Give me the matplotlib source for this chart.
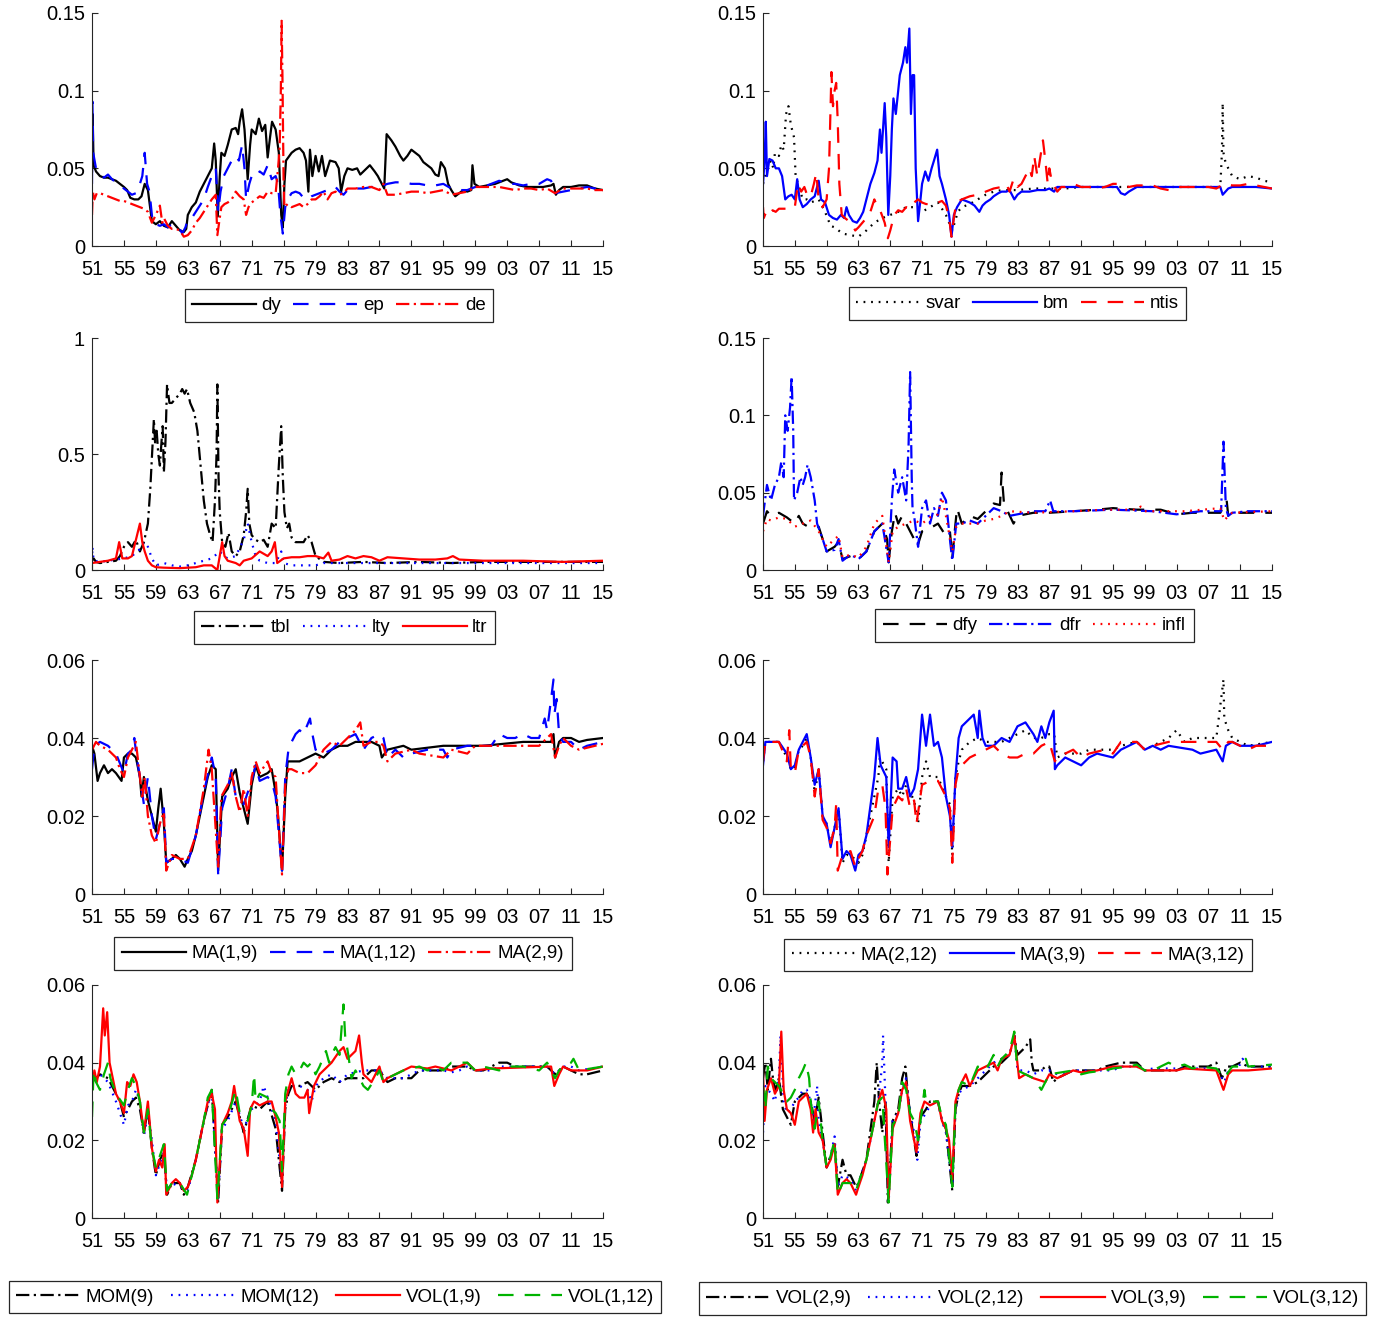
import matplotlib
matplotlib.use('Agg')
import matplotlib.pyplot as plt

plt.rcParams['font.family'] = ['Liberation Sans', 'DejaVu Sans']

FIG_W, FIG_H = 1382, 1317
AXIS_GREY = '#262626'
GREEN = (0.0, 0.7, 0.0)

YEAR_TICKS = list(range(1951, 2016, 4))
YEAR_LABELS = ['%02d' % (y % 100) for y in YEAR_TICKS]

# ---- panel 1: dy / ep / de ----
DY = [(1951.0,0.048),(1951.08,0.085),(1951.2,0.052),(1951.5,0.048),(1952.0,0.045),(1952.5,0.044),(1953.0,0.044),(1953.5,0.043),(1954.0,0.042),(1954.5,0.040),(1955.0,0.038),(1955.4,0.036),(1955.8,0.031),(1956.3,0.030),(1956.8,0.030),(1957.2,0.032),(1957.6,0.040),(1958.0,0.036),(1958.5,0.016),(1959.0,0.014),(1959.5,0.016),(1960.0,0.013),(1960.5,0.012),(1961.0,0.016),(1961.5,0.013),(1962.0,0.010),(1962.5,0.009),(1962.8,0.011),(1963.0,0.020),(1963.5,0.025),(1964.0,0.028),(1964.5,0.035),(1965.0,0.040),(1965.5,0.045),(1966.0,0.050),(1966.3,0.066),(1966.5,0.055),(1966.75,0.019),(1967.0,0.045),(1967.2,0.060),(1967.6,0.058),(1968.0,0.065),(1968.5,0.075),(1969.0,0.076),(1969.3,0.072),(1969.5,0.080),(1969.8,0.088),(1970.1,0.075),(1970.5,0.043),(1970.8,0.065),(1971.0,0.075),(1971.5,0.072),(1971.9,0.082),(1972.3,0.074),(1972.7,0.078),(1973.0,0.057),(1973.3,0.070),(1973.55,0.080),(1974.0,0.075),(1974.4,0.060),(1974.7,0.020),(1974.9,0.012),(1975.1,0.040),(1975.3,0.055),(1976.0,0.060),(1976.5,0.062),(1977.0,0.063),(1977.5,0.060),(1977.8,0.055),(1978.1,0.035),(1978.3,0.062),(1978.6,0.045),(1979.0,0.058),(1979.4,0.048),(1979.8,0.058),(1980.2,0.045),(1980.8,0.055),(1981.5,0.054),(1981.9,0.050),(1982.2,0.035),(1982.6,0.045),(1983.0,0.050),(1983.6,0.049),(1984.2,0.050),(1984.6,0.046),(1985.2,0.049),(1985.8,0.052),(1986.4,0.048),(1986.8,0.045),(1987.3,0.040),(1987.6,0.037),(1987.9,0.072),(1988.5,0.068),(1989.0,0.064),(1989.6,0.058),(1990.0,0.055),(1990.5,0.058),(1991.0,0.062),(1991.5,0.060),(1992.0,0.058),(1992.5,0.054),(1993.0,0.052),(1993.5,0.050),(1994.0,0.046),(1994.4,0.045),(1994.7,0.054),(1995.2,0.050),(1995.6,0.040),(1996.0,0.036),(1996.5,0.032),(1997.0,0.034),(1997.5,0.036),(1998.0,0.035),(1998.5,0.036),(1998.65,0.052),(1998.9,0.040),(1999.5,0.038),(2000.5,0.039),(2001.5,0.040),(2002.5,0.042),(2003.0,0.043),(2003.5,0.041),(2004.5,0.039),(2005.5,0.038),(2006.5,0.038),(2007.5,0.038),(2008.5,0.039),(2008.8,0.040),(2009.1,0.033),(2009.5,0.036),(2010.0,0.038),(2011.0,0.038),(2012.0,0.039),(2013.0,0.039),(2014.0,0.037),(2015.0,0.036)]
EP = [(1951.0,0.040),(1951.05,0.093),(1951.15,0.060),(1951.5,0.050),(1952.0,0.047),(1952.5,0.044),(1953.0,0.046),(1953.5,0.043),(1954.0,0.041),(1954.5,0.039),(1955.0,0.037),(1955.5,0.035),(1956.0,0.033),(1956.5,0.034),(1957.0,0.040),(1957.3,0.045),(1957.6,0.060),(1957.9,0.040),(1958.2,0.035),(1958.6,0.015),(1959.0,0.014),(1959.5,0.013),(1960.0,0.014),(1960.5,0.012),(1961.0,0.014),(1961.5,0.013),(1962.0,0.011),(1962.3,0.008),(1962.7,0.012),(1963.0,0.017),(1963.5,0.018),(1964.0,0.022),(1964.5,0.026),(1965.0,0.030),(1965.5,0.038),(1966.0,0.045),(1966.5,0.050),(1966.8,0.022),(1967.1,0.035),(1967.5,0.045),(1968.0,0.050),(1968.5,0.055),(1969.0,0.058),(1969.4,0.055),(1969.8,0.065),(1970.1,0.050),(1970.3,0.030),(1970.7,0.040),(1971.0,0.045),(1971.5,0.044),(1972.0,0.048),(1972.5,0.046),(1973.0,0.052),(1973.5,0.043),(1974.0,0.045),(1974.3,0.040),(1974.6,0.020),(1974.9,0.008),(1975.2,0.025),(1975.5,0.030),(1976.0,0.034),(1976.5,0.035),(1977.0,0.034),(1977.5,0.031),(1978.0,0.030),(1978.5,0.032),(1979.0,0.033),(1979.5,0.034),(1980.0,0.035),(1980.5,0.036),(1981.0,0.037),(1981.5,0.038),(1982.0,0.035),(1982.5,0.033),(1983.0,0.036),(1984.0,0.037),(1985.0,0.037),(1986.0,0.038),(1987.0,0.038),(1988.0,0.040),(1989.0,0.041),(1990.0,0.041),(1991.0,0.040),(1992.0,0.040),(1993.0,0.039),(1994.0,0.039),(1995.0,0.040),(1996.0,0.037),(1997.0,0.036),(1998.0,0.036),(1999.0,0.038),(2000.0,0.038),(2001.0,0.040),(2002.0,0.042),(2003.0,0.040),(2004.0,0.040),(2005.0,0.039),(2006.0,0.040),(2007.0,0.040),(2008.0,0.043),(2008.5,0.042),(2009.0,0.034),(2010.0,0.035),(2011.0,0.036),(2012.0,0.037),(2013.0,0.038),(2014.0,0.037),(2015.0,0.036)]
DE = [(1951.0,0.020),(1951.1,0.035),(1951.3,0.030),(1951.6,0.034),(1952.0,0.034),(1952.5,0.033),(1953.0,0.032),(1953.5,0.031),(1954.0,0.030),(1954.5,0.029),(1955.0,0.029),(1955.5,0.028),(1956.0,0.027),(1956.5,0.026),(1957.0,0.025),(1957.5,0.024),(1958.0,0.022),(1958.5,0.015),(1959.0,0.020),(1959.5,0.026),(1959.8,0.015),(1960.0,0.018),(1960.5,0.013),(1961.0,0.011),(1961.5,0.011),(1962.0,0.010),(1962.5,0.006),(1963.0,0.007),(1963.5,0.010),(1964.0,0.015),(1964.5,0.018),(1965.0,0.022),(1965.5,0.026),(1966.0,0.030),(1966.5,0.033),(1966.7,0.007),(1967.0,0.018),(1967.2,0.025),(1967.6,0.027),(1968.0,0.028),(1968.5,0.030),(1969.0,0.035),(1969.5,0.032),(1970.0,0.030),(1970.3,0.020),(1970.6,0.025),(1971.0,0.028),(1971.5,0.030),(1972.0,0.032),(1972.5,0.031),(1973.0,0.035),(1973.5,0.034),(1974.0,0.034),(1974.3,0.050),(1974.5,0.063),(1974.65,0.100),(1974.75,0.145),(1974.85,0.110),(1975.0,0.040),(1975.1,0.025),(1975.5,0.027),(1976.0,0.025),(1976.5,0.026),(1977.0,0.027),(1977.5,0.025),(1978.0,0.027),(1978.5,0.030),(1979.0,0.030),(1979.5,0.032),(1980.0,0.035),(1980.5,0.030),(1981.0,0.034),(1981.5,0.035),(1982.0,0.033),(1982.5,0.034),(1983.0,0.037),(1984.0,0.037),(1985.0,0.038),(1986.0,0.038),(1987.0,0.036),(1987.5,0.040),(1988.0,0.033),(1989.0,0.033),(1990.0,0.034),(1991.0,0.035),(1992.0,0.035),(1993.0,0.034),(1994.0,0.035),(1995.0,0.036),(1996.0,0.033),(1997.0,0.034),(1998.0,0.035),(1999.0,0.038),(2000.0,0.038),(2001.0,0.038),(2002.0,0.038),(2003.0,0.037),(2004.0,0.036),(2005.0,0.037),(2006.0,0.037),(2007.0,0.036),(2008.0,0.037),(2009.0,0.034),(2010.0,0.037),(2011.0,0.037),(2012.0,0.037),(2013.0,0.037),(2014.0,0.036),(2015.0,0.036)]

# ---- panel 2: svar / bm / ntis ----
SVAR = [(1951.0,0.040),(1951.5,0.050),(1952.0,0.055),(1952.3,0.050),(1952.5,0.060),(1953.0,0.058),(1953.3,0.065),(1953.6,0.062),(1953.9,0.085),(1954.2,0.090),(1954.5,0.078),(1954.9,0.070),(1955.1,0.045),(1955.4,0.040),(1955.7,0.035),(1956.0,0.030),(1956.5,0.030),(1957.0,0.028),(1957.5,0.029),(1958.0,0.030),(1958.8,0.022),(1959.5,0.013),(1960.0,0.012),(1960.5,0.010),(1961.0,0.008),(1962.0,0.007),(1963.0,0.006),(1963.5,0.008),(1964.0,0.010),(1965.0,0.015),(1966.0,0.018),(1967.0,0.020),(1968.0,0.022),(1969.0,0.025),(1970.0,0.025),(1971.0,0.022),(1972.0,0.025),(1973.0,0.028),(1974.0,0.020),(1974.8,0.010),(1975.5,0.022),(1976.0,0.025),(1977.0,0.027),(1978.0,0.030),(1979.0,0.033),(1980.0,0.035),(1981.0,0.036),(1983.0,0.036),(1985.0,0.037),(1987.0,0.037),(1989.0,0.037),(1991.0,0.038),(1995.0,0.038),(2000.0,0.038),(2004.0,0.038),(2008.5,0.038),(2008.7,0.060),(2008.8,0.092),(2008.9,0.060),(2009.1,0.055),(2009.5,0.050),(2010.0,0.045),(2011.0,0.043),(2012.0,0.045),(2013.0,0.044),(2014.0,0.042),(2015.0,0.041)]
BM = [(1951.0,0.040),(1951.2,0.055),(1951.35,0.080),(1951.5,0.045),(1951.8,0.056),(1952.2,0.055),(1952.6,0.050),(1953.0,0.050),(1953.4,0.045),(1953.8,0.030),(1954.2,0.032),(1954.6,0.033),(1955.0,0.030),(1955.3,0.043),(1955.6,0.030),(1956.0,0.025),(1956.5,0.027),(1957.0,0.030),(1957.5,0.032),(1958.0,0.042),(1958.3,0.030),(1958.8,0.028),(1959.3,0.020),(1959.8,0.018),(1960.3,0.017),(1960.8,0.020),(1961.2,0.018),(1961.5,0.025),(1961.8,0.020),(1962.3,0.016),(1962.8,0.015),(1963.2,0.018),(1963.6,0.022),(1964.0,0.030),(1964.5,0.040),(1965.0,0.047),(1965.4,0.055),(1965.7,0.075),(1965.9,0.060),(1966.3,0.092),(1966.5,0.070),(1966.75,0.020),(1967.0,0.045),(1967.2,0.075),(1967.4,0.095),(1967.7,0.085),(1968.2,0.110),(1968.6,0.118),(1968.9,0.128),(1969.1,0.118),(1969.4,0.140),(1969.6,0.085),(1969.8,0.110),(1970.0,0.110),(1970.2,0.050),(1970.5,0.016),(1970.8,0.030),(1971.0,0.040),(1971.4,0.048),(1971.8,0.042),(1972.2,0.050),(1972.5,0.055),(1972.9,0.062),(1973.2,0.045),(1973.5,0.040),(1974.0,0.030),(1974.4,0.020),(1974.7,0.006),(1975.0,0.020),(1975.4,0.025),(1976.0,0.030),(1976.5,0.029),(1977.0,0.028),(1977.6,0.026),(1978.2,0.022),(1978.6,0.026),(1979.0,0.028),(1979.6,0.030),(1980.0,0.032),(1980.6,0.034),(1981.0,0.035),(1981.6,0.035),(1982.0,0.036),(1982.6,0.030),(1983.0,0.033),(1983.5,0.035),(1984.5,0.035),(1985.5,0.036),(1986.5,0.036),(1987.0,0.037),(1987.6,0.035),(1988.0,0.038),(1990.0,0.038),(1992.0,0.038),(1994.0,0.038),(1995.5,0.038),(1996.0,0.034),(1996.5,0.033),(1997.0,0.035),(1998.0,0.038),(2000.0,0.038),(2002.0,0.038),(2004.0,0.038),(2006.0,0.038),(2008.5,0.038),(2008.8,0.033),(2009.5,0.037),(2010.0,0.038),(2012.0,0.038),(2013.0,0.038),(2015.0,0.037)]
NTIS = [(1951.0,0.025),(1951.1,0.018),(1951.4,0.022),(1951.8,0.020),(1952.2,0.023),(1952.6,0.022),(1953.0,0.024),(1953.5,0.024),(1954.0,0.024),(1954.5,0.025),(1955.0,0.025),(1955.4,0.040),(1955.8,0.035),(1956.2,0.038),(1956.6,0.032),(1957.0,0.032),(1957.4,0.040),(1957.7,0.047),(1958.0,0.030),(1958.5,0.025),(1959.0,0.030),(1959.3,0.050),(1959.5,0.090),(1959.6,0.112),(1959.8,0.090),(1960.0,0.100),(1960.2,0.105),(1960.4,0.080),(1960.6,0.040),(1960.9,0.020),(1961.3,0.018),(1961.8,0.016),(1962.2,0.014),(1962.6,0.010),(1963.0,0.012),(1963.5,0.015),(1964.0,0.018),(1964.5,0.022),(1965.0,0.030),(1965.4,0.025),(1965.8,0.022),(1966.3,0.015),(1966.7,0.005),(1967.0,0.010),(1967.5,0.020),(1968.0,0.023),(1968.5,0.022),(1969.0,0.025),(1969.5,0.024),(1970.0,0.028),(1970.5,0.030),(1971.0,0.028),(1971.5,0.027),(1972.0,0.027),(1972.5,0.028),(1973.0,0.028),(1973.5,0.029),(1974.0,0.026),(1974.4,0.018),(1974.7,0.006),(1975.0,0.018),(1975.3,0.028),(1976.0,0.030),(1977.0,0.032),(1978.0,0.033),(1979.0,0.035),(1979.5,0.036),(1980.0,0.037),(1981.0,0.038),(1981.6,0.040),(1982.0,0.035),(1982.5,0.043),(1983.0,0.038),(1983.5,0.040),(1984.0,0.045),(1984.5,0.050),(1984.8,0.045),(1985.1,0.058),(1985.5,0.045),(1985.8,0.055),(1986.2,0.068),(1986.5,0.055),(1986.8,0.040),(1987.0,0.050),(1987.3,0.042),(1988.0,0.035),(1988.5,0.038),(1989.0,0.038),(1990.0,0.040),(1991.0,0.038),(1992.0,0.038),(1993.0,0.037),(1994.0,0.038),(1995.0,0.040),(1996.0,0.040),(1997.0,0.038),(1998.0,0.039),(1999.0,0.039),(2000.0,0.039),(2001.0,0.037),(2002.0,0.036),(2003.0,0.038),(2005.0,0.038),(2007.0,0.038),(2008.0,0.037),(2009.0,0.040),(2010.0,0.039),(2011.0,0.039),(2012.0,0.040),(2013.0,0.039),(2015.0,0.037)]

# ---- panel 3: tbl / lty / ltr ----
TBL = [(1951.0,0.04),(1951.2,0.05),(1951.5,0.035),(1952.0,0.03),(1953.0,0.035),(1954.0,0.04),(1954.5,0.06),(1955.0,0.10),(1955.5,0.12),(1956.0,0.10),(1956.5,0.13),(1957.0,0.08),(1957.5,0.12),(1958.0,0.20),(1958.3,0.35),(1958.6,0.55),(1958.75,0.65),(1958.9,0.55),(1959.1,0.60),(1959.3,0.50),(1959.5,0.45),(1959.7,0.55),(1959.85,0.62),(1960.0,0.42),(1960.2,0.55),(1960.4,0.80),(1960.7,0.72),(1961.0,0.72),(1961.5,0.74),(1962.0,0.76),(1962.3,0.78),(1962.6,0.76),(1962.9,0.78),(1963.3,0.72),(1963.8,0.68),(1964.2,0.60),(1964.6,0.45),(1965.0,0.30),(1965.4,0.20),(1965.8,0.15),(1966.1,0.12),(1966.4,0.30),(1966.6,0.50),(1966.7,0.80),(1966.85,0.40),(1967.0,0.25),(1967.3,0.12),(1967.7,0.10),(1968.1,0.16),(1968.5,0.08),(1969.0,0.06),(1969.5,0.08),(1970.0,0.15),(1970.3,0.25),(1970.5,0.35),(1970.7,0.20),(1971.0,0.15),(1971.5,0.13),(1972.0,0.12),(1972.5,0.13),(1973.0,0.10),(1973.5,0.20),(1974.0,0.18),(1974.4,0.45),(1974.7,0.62),(1974.9,0.40),(1975.1,0.25),(1975.4,0.18),(1975.7,0.20),(1976.0,0.14),(1976.5,0.12),(1977.0,0.12),(1977.5,0.12),(1978.0,0.15),(1978.5,0.12),(1979.0,0.06),(1980.0,0.035),(1982.0,0.03),(1985.0,0.035),(1988.0,0.03),(1992.0,0.035),(1996.0,0.03),(2000.0,0.035),(2005.0,0.035),(2010.0,0.035),(2015.0,0.035)]
LTY = [(1951.0,0.04),(1951.05,0.10),(1951.2,0.04),(1952.0,0.035),(1953.0,0.04),(1954.0,0.045),(1955.0,0.05),(1956.0,0.06),(1957.0,0.09),(1957.5,0.12),(1958.0,0.10),(1958.5,0.05),(1959.0,0.02),(1960.0,0.03),(1961.0,0.02),(1962.0,0.015),(1963.0,0.02),(1964.0,0.03),(1965.0,0.04),(1966.0,0.05),(1967.0,0.08),(1967.5,0.06),(1968.0,0.05),(1969.0,0.06),(1970.0,0.13),(1970.5,0.20),(1971.0,0.12),(1971.5,0.06),(1972.0,0.04),(1973.0,0.03),(1974.0,0.03),(1974.7,0.08),(1975.0,0.03),(1976.0,0.02),(1978.0,0.02),(1979.0,0.02),(1980.0,0.03),(1985.0,0.03),(1990.0,0.03),(2000.0,0.03),(2015.0,0.03)]
LTR = [(1951.0,0.03),(1952.0,0.035),(1953.0,0.04),(1954.0,0.05),(1954.4,0.12),(1954.8,0.05),(1955.5,0.05),(1956.0,0.06),(1956.5,0.13),(1957.0,0.20),(1957.3,0.12),(1957.6,0.08),(1958.0,0.04),(1958.5,0.02),(1959.0,0.012),(1960.0,0.010),(1962.0,0.008),(1964.0,0.012),(1965.0,0.02),(1966.0,0.02),(1966.7,0.0),(1967.0,0.06),(1967.3,0.12),(1967.6,0.06),(1968.0,0.04),(1969.0,0.03),(1969.5,0.02),(1970.0,0.04),(1971.0,0.05),(1972.0,0.08),(1973.0,0.06),(1973.5,0.08),(1973.9,0.12),(1974.2,0.03),(1975.0,0.05),(1976.0,0.055),(1977.0,0.055),(1978.0,0.06),(1979.0,0.06),(1980.0,0.05),(1980.6,0.075),(1981.0,0.04),(1982.0,0.045),(1983.0,0.06),(1984.0,0.05),(1985.0,0.06),(1986.0,0.055),(1987.0,0.04),(1988.0,0.055),(1990.0,0.05),(1992.0,0.045),(1994.0,0.045),(1995.5,0.05),(1996.2,0.06),(1997.0,0.045),(2000.0,0.04),(2005.0,0.04),(2010.0,0.035),(2015.0,0.04)]

# ---- panel 4: dfy / dfr / infl ----
DFY = [(1951.0,0.030),(1951.5,0.038),(1952.0,0.035),(1953.0,0.037),(1954.0,0.034),(1955.0,0.030),(1955.5,0.035),(1956.0,0.030),(1957.0,0.027),(1958.0,0.028),(1958.5,0.020),(1959.0,0.012),(1960.0,0.015),(1960.5,0.018),(1961.0,0.007),(1962.0,0.009),(1963.0,0.007),(1964.0,0.012),(1965.0,0.025),(1966.0,0.030),(1966.6,0.020),(1966.8,0.005),(1967.2,0.025),(1967.6,0.037),(1968.0,0.030),(1968.5,0.035),(1969.5,0.025),(1970.0,0.020),(1970.4,0.015),(1971.0,0.025),(1972.0,0.027),(1973.0,0.030),(1974.0,0.022),(1974.5,0.025),(1974.8,0.008),(1975.2,0.030),(1975.4,0.040),(1976.0,0.030),(1977.0,0.035),(1978.0,0.033),(1979.0,0.038),(1980.0,0.043),(1980.8,0.042),(1981.0,0.063),(1981.3,0.043),(1982.5,0.030),(1983.0,0.035),(1985.0,0.037),(1987.0,0.037),(1990.0,0.038),(1993.0,0.039),(1995.0,0.040),(1998.0,0.039),(2001.0,0.039),(2003.0,0.036),(2005.0,0.037),(2008.5,0.037),(2009.3,0.045),(2009.5,0.035),(2010.0,0.037),(2015.0,0.037)]
DFR = [(1951.0,0.035),(1951.5,0.055),(1952.0,0.045),(1952.5,0.055),(1953.0,0.060),(1953.3,0.070),(1953.6,0.060),(1953.8,0.100),(1954.1,0.090),(1954.4,0.105),(1954.6,0.125),(1954.8,0.090),(1954.9,0.045),(1955.3,0.050),(1955.7,0.060),(1956.0,0.055),(1956.3,0.060),(1956.6,0.068),(1957.0,0.060),(1957.5,0.045),(1957.8,0.030),(1958.5,0.020),(1959.0,0.012),(1960.0,0.013),(1960.5,0.020),(1961.0,0.006),(1962.0,0.010),(1963.0,0.007),(1964.0,0.012),(1965.0,0.025),(1966.0,0.030),(1966.8,0.005),(1967.2,0.045),(1967.5,0.065),(1968.0,0.050),(1968.5,0.060),(1969.0,0.045),(1969.3,0.080),(1969.5,0.128),(1969.7,0.060),(1969.8,0.040),(1970.0,0.035),(1970.5,0.015),(1971.0,0.040),(1971.5,0.045),(1972.0,0.030),(1972.5,0.040),(1973.0,0.035),(1973.5,0.050),(1974.0,0.045),(1974.5,0.020),(1974.8,0.006),(1975.3,0.030),(1976.0,0.030),(1977.0,0.032),(1978.0,0.030),(1979.0,0.035),(1980.0,0.040),(1981.0,0.038),(1982.0,0.035),(1983.0,0.036),(1985.0,0.038),(1986.5,0.038),(1987.1,0.045),(1987.5,0.038),(1990.0,0.038),(1995.0,0.039),(2000.0,0.038),(2003.0,0.036),(2006.0,0.038),(2008.6,0.038),(2008.9,0.083),(2009.2,0.040),(2009.5,0.035),(2010.0,0.037),(2012.0,0.038),(2015.0,0.038)]
INFL = [(1951.0,0.025),(1951.5,0.033),(1952.0,0.032),(1953.0,0.034),(1954.0,0.033),(1955.0,0.028),(1956.0,0.030),(1957.0,0.032),(1958.0,0.025),(1959.0,0.015),(1960.0,0.020),(1960.5,0.022),(1961.0,0.008),(1962.0,0.010),(1963.0,0.008),(1964.0,0.015),(1965.0,0.030),(1966.0,0.035),(1966.8,0.005),(1967.3,0.025),(1968.0,0.028),(1969.0,0.030),(1970.0,0.032),(1971.0,0.030),(1972.0,0.034),(1973.0,0.036),(1973.5,0.047),(1974.0,0.035),(1974.8,0.012),(1975.3,0.028),(1976.0,0.030),(1978.0,0.030),(1979.0,0.032),(1980.0,0.033),(1981.0,0.035),(1982.0,0.038),(1985.0,0.037),(1990.0,0.038),(1994.0,0.039),(1998.0,0.039),(1998.5,0.041),(1999.0,0.038),(2004.0,0.038),(2008.5,0.040),(2009.0,0.032),(2009.5,0.035),(2010.0,0.037),(2015.0,0.038)]

# ---- panel 5: MA(1,9) / MA(1,12) / MA(2,9) ----
MA_1_9 = [(1951.0,0.038),(1951.3,0.036),(1951.7,0.029),(1952.0,0.031),(1952.5,0.033),(1953.0,0.031),(1953.5,0.032),(1954.0,0.031),(1954.7,0.029),(1955.0,0.035),(1955.5,0.036),(1956.0,0.036),(1956.5,0.035),(1957.0,0.030),(1957.2,0.025),(1957.5,0.030),(1958.0,0.024),(1958.5,0.020),(1959.0,0.016),(1959.3,0.022),(1959.6,0.027),(1960.0,0.018),(1960.3,0.008),(1961.0,0.009),(1961.5,0.010),(1962.0,0.009),(1962.6,0.007),(1963.0,0.009),(1963.5,0.011),(1964.0,0.015),(1965.0,0.025),(1965.5,0.030),(1966.0,0.033),(1966.5,0.032),(1966.8,0.006),(1967.3,0.025),(1968.0,0.027),(1968.5,0.030),(1969.0,0.032),(1969.5,0.026),(1970.0,0.022),(1970.5,0.018),(1971.0,0.028),(1971.5,0.033),(1972.0,0.030),(1973.0,0.031),(1973.5,0.032),(1974.0,0.026),(1974.3,0.020),(1974.8,0.006),(1975.2,0.025),(1975.5,0.034),(1976.0,0.034),(1977.0,0.034),(1978.0,0.035),(1979.0,0.036),(1980.0,0.035),(1981.0,0.037),(1982.0,0.038),(1983.0,0.038),(1984.0,0.039),(1986.0,0.039),(1987.0,0.038),(1987.3,0.035),(1988.0,0.037),(1990.0,0.038),(1991.0,0.037),(1995.0,0.038),(2000.0,0.038),(2005.0,0.039),(2008.5,0.039),(2008.8,0.041),(2009.0,0.035),(2009.5,0.039),(2010.0,0.040),(2011.0,0.040),(2012.0,0.039),(2013.0,0.0395),(2015.0,0.040)]
MA_1_12 = [(1951.0,0.032),(1951.3,0.038),(1952.0,0.039),(1953.0,0.038),(1954.0,0.036),(1955.0,0.031),(1955.5,0.036),(1956.0,0.037),(1956.3,0.040),(1956.6,0.035),(1957.0,0.030),(1957.5,0.023),(1958.0,0.030),(1958.5,0.020),(1959.0,0.014),(1959.5,0.018),(1960.0,0.022),(1960.3,0.008),(1961.0,0.009),(1962.0,0.009),(1963.0,0.008),(1964.0,0.015),(1965.0,0.026),(1966.0,0.035),(1966.5,0.030),(1966.8,0.005),(1967.3,0.022),(1968.0,0.027),(1968.5,0.032),(1969.0,0.025),(1970.0,0.023),(1971.0,0.029),(1971.5,0.033),(1972.0,0.029),(1973.0,0.030),(1973.5,0.029),(1974.0,0.025),(1974.8,0.006),(1975.2,0.030),(1975.6,0.037),(1976.0,0.039),(1976.5,0.041),(1977.0,0.042),(1977.5,0.041),(1978.3,0.045),(1978.6,0.041),(1979.0,0.037),(1980.0,0.036),(1981.0,0.037),(1982.0,0.039),(1983.0,0.040),(1984.0,0.041),(1985.0,0.037),(1986.0,0.040),(1987.0,0.041),(1987.5,0.040),(1988.0,0.035),(1989.0,0.037),(1990.0,0.035),(1991.0,0.036),(1993.0,0.037),(1995.0,0.037),(1995.5,0.035),(1996.0,0.037),(1998.0,0.038),(2001.0,0.038),(2002.0,0.041),(2003.0,0.040),(2004.0,0.040),(2005.0,0.041),(2006.0,0.040),(2007.0,0.040),(2007.7,0.045),(2008.0,0.042),(2008.5,0.050),(2008.8,0.055),(2008.9,0.046),(2009.2,0.050),(2009.5,0.041),(2010.0,0.039),(2011.0,0.039),(2012.0,0.037),(2013.0,0.038),(2015.0,0.039)]
MA_2_9 = [(1951.0,0.037),(1951.5,0.039),(1952.0,0.038),(1953.0,0.037),(1954.0,0.035),(1954.5,0.032),(1955.0,0.030),(1955.5,0.035),(1956.0,0.037),(1956.5,0.039),(1957.0,0.030),(1957.3,0.025),(1957.6,0.030),(1958.0,0.020),(1958.5,0.015),(1959.0,0.013),(1959.5,0.018),(1960.0,0.021),(1960.3,0.006),(1961.0,0.010),(1962.0,0.009),(1963.0,0.009),(1964.0,0.015),(1965.0,0.027),(1965.6,0.037),(1966.0,0.032),(1966.8,0.007),(1967.2,0.025),(1968.0,0.028),(1968.5,0.031),(1969.0,0.025),(1969.5,0.021),(1970.0,0.027),(1970.5,0.020),(1971.0,0.030),(1971.5,0.034),(1972.0,0.031),(1973.0,0.034),(1973.5,0.031),(1974.0,0.030),(1974.3,0.020),(1974.8,0.005),(1975.2,0.028),(1975.6,0.032),(1976.0,0.032),(1977.0,0.031),(1978.0,0.031),(1979.0,0.033),(1979.5,0.035),(1980.0,0.037),(1981.0,0.039),(1982.0,0.038),(1983.0,0.040),(1984.0,0.042),(1984.6,0.044),(1985.0,0.038),(1986.0,0.039),(1987.0,0.039),(1987.5,0.038),(1988.0,0.034),(1989.0,0.036),(1991.0,0.037),(1992.0,0.036),(1995.0,0.035),(1996.0,0.037),(1998.0,0.036),(1999.0,0.038),(2007.0,0.038),(2008.5,0.041),(2009.0,0.035),(2009.5,0.038),(2010.0,0.040),(2011.0,0.038),(2012.0,0.037),(2015.0,0.0385)]

# ---- panel 6: MA(2,12) / MA(3,9) / MA(3,12) ----
MA_2_12 = [(1951.0,0.034),(1951.3,0.039),(1952.0,0.039),(1953.0,0.039),(1954.0,0.035),(1954.5,0.032),(1955.0,0.032),(1955.5,0.037),(1956.0,0.038),(1956.5,0.040),(1957.0,0.035),(1957.5,0.026),(1958.0,0.032),(1958.5,0.020),(1959.0,0.018),(1959.5,0.013),(1960.0,0.017),(1960.5,0.022),(1961.0,0.008),(1961.5,0.010),(1962.0,0.010),(1963.0,0.008),(1963.5,0.010),(1964.0,0.015),(1965.0,0.025),(1965.5,0.030),(1965.7,0.035),(1966.5,0.032),(1966.8,0.008),(1967.3,0.025),(1968.0,0.027),(1968.5,0.025),(1969.0,0.028),(1970.0,0.024),(1970.5,0.018),(1971.0,0.030),(1971.5,0.034),(1972.0,0.030),(1973.0,0.030),(1974.0,0.025),(1974.5,0.023),(1974.8,0.010),(1975.2,0.030),(1975.6,0.034),(1976.0,0.037),(1977.0,0.039),(1978.0,0.040),(1979.0,0.039),(1981.0,0.039),(1982.0,0.040),(1983.0,0.041),(1984.0,0.042),(1985.0,0.040),(1986.0,0.040),(1987.0,0.041),(1987.6,0.041),(1988.0,0.035),(1989.0,0.036),(1991.0,0.036),(1992.0,0.037),(1995.0,0.037),(1996.0,0.038),(1998.0,0.039),(1999.0,0.037),(2000.0,0.038),(2001.0,0.039),(2002.0,0.040),(2003.0,0.042),(2004.0,0.039),(2005.0,0.040),(2008.0,0.040),(2008.3,0.045),(2008.6,0.050),(2008.9,0.055),(2009.0,0.045),(2009.5,0.042),(2010.0,0.040),(2011.0,0.039),(2012.0,0.038),(2015.0,0.039)]
MA_3_9 = [(1951.0,0.033),(1951.3,0.039),(1952.0,0.039),(1953.0,0.039),(1954.0,0.036),(1954.5,0.032),(1955.0,0.033),(1955.5,0.037),(1956.0,0.039),(1956.5,0.041),(1957.0,0.035),(1957.5,0.028),(1958.0,0.032),(1958.5,0.020),(1959.0,0.018),(1959.5,0.012),(1960.0,0.017),(1960.5,0.022),(1961.0,0.009),(1961.5,0.011),(1962.0,0.010),(1962.6,0.006),(1963.0,0.010),(1963.5,0.011),(1964.0,0.015),(1965.0,0.030),(1965.4,0.040),(1965.8,0.033),(1966.5,0.030),(1966.8,0.012),(1967.3,0.035),(1967.8,0.034),(1968.0,0.027),(1968.5,0.027),(1969.0,0.030),(1969.5,0.025),(1970.0,0.027),(1970.5,0.032),(1971.0,0.046),(1971.5,0.038),(1972.0,0.046),(1972.5,0.038),(1973.0,0.039),(1973.5,0.035),(1974.0,0.025),(1974.5,0.020),(1974.8,0.012),(1975.2,0.030),(1975.6,0.040),(1976.0,0.043),(1977.0,0.045),(1977.5,0.046),(1978.0,0.040),(1978.2,0.047),(1978.6,0.040),(1979.0,0.038),(1980.0,0.038),(1981.0,0.040),(1982.0,0.039),(1983.0,0.043),(1984.0,0.044),(1985.0,0.041),(1985.5,0.039),(1986.0,0.043),(1986.5,0.040),(1987.0,0.044),(1987.55,0.047),(1987.7,0.032),(1988.0,0.033),(1989.0,0.035),(1990.0,0.034),(1991.0,0.033),(1992.0,0.035),(1993.0,0.036),(1995.0,0.035),(1996.0,0.037),(1997.0,0.038),(1998.0,0.039),(1999.0,0.037),(2000.0,0.038),(2001.0,0.037),(2002.0,0.038),(2005.0,0.037),(2006.0,0.036),(2008.0,0.037),(2008.8,0.034),(2009.2,0.038),(2010.0,0.039),(2011.0,0.038),(2013.0,0.038),(2015.0,0.039)]
MA_3_12 = [(1951.0,0.034),(1951.3,0.039),(1952.0,0.039),(1953.0,0.039),(1954.0,0.034),(1954.3,0.042),(1954.5,0.032),(1955.0,0.031),(1955.5,0.037),(1956.0,0.038),(1956.5,0.039),(1957.0,0.035),(1957.5,0.025),(1958.0,0.032),(1958.5,0.019),(1959.0,0.017),(1959.5,0.013),(1960.0,0.017),(1960.2,0.023),(1960.4,0.006),(1961.0,0.010),(1962.0,0.011),(1962.6,0.007),(1963.0,0.009),(1963.5,0.011),(1964.0,0.015),(1965.0,0.020),(1965.5,0.027),(1966.0,0.028),(1966.4,0.022),(1966.65,0.005),(1967.3,0.022),(1968.0,0.025),(1968.5,0.024),(1969.0,0.027),(1969.5,0.022),(1970.0,0.024),(1970.3,0.018),(1971.0,0.028),(1972.0,0.029),(1973.0,0.029),(1974.0,0.025),(1974.5,0.022),(1974.8,0.008),(1975.2,0.028),(1975.6,0.032),(1976.0,0.033),(1977.0,0.035),(1978.0,0.036),(1979.0,0.037),(1980.0,0.038),(1981.0,0.036),(1982.0,0.035),(1983.0,0.035),(1984.0,0.036),(1985.0,0.036),(1986.0,0.038),(1987.0,0.039),(1987.7,0.034),(1988.0,0.035),(1989.0,0.036),(1990.0,0.037),(1991.0,0.035),(1992.0,0.036),(1994.0,0.037),(1995.0,0.036),(1996.0,0.039),(1998.0,0.039),(1999.0,0.037),(2000.0,0.038),(2002.0,0.039),(2008.0,0.039),(2008.8,0.037),(2009.5,0.039),(2010.0,0.039),(2011.0,0.038),(2012.0,0.037),(2013.0,0.038),(2015.0,0.038)]

# ---- panel 7: MOM(9) / MOM(12) / VOL(1,9) / VOL(1,12) ----
MOM_9 = [(1951.0,0.035),(1952.0,0.037),(1953.0,0.036),(1953.5,0.034),(1954.0,0.032),(1954.5,0.030),(1955.0,0.026),(1955.5,0.028),(1956.0,0.030),(1956.5,0.031),(1957.0,0.028),(1957.5,0.022),(1958.0,0.028),(1958.5,0.018),(1959.0,0.011),(1959.5,0.015),(1960.0,0.017),(1960.4,0.006),(1961.0,0.009),(1962.0,0.009),(1962.5,0.006),(1963.0,0.008),(1964.0,0.015),(1965.0,0.025),(1966.0,0.033),(1966.8,0.004),(1967.3,0.024),(1968.0,0.026),(1969.0,0.030),(1970.0,0.022),(1971.0,0.029),(1972.0,0.028),(1973.0,0.030),(1974.0,0.023),(1974.8,0.007),(1975.2,0.028),(1975.6,0.032),(1976.0,0.034),(1977.0,0.034),(1978.0,0.035),(1979.0,0.033),(1980.0,0.035),(1981.0,0.036),(1982.0,0.035),(1983.0,0.036),(1985.0,0.036),(1986.0,0.038),(1987.0,0.038),(1988.0,0.035),(1989.0,0.036),(1991.0,0.036),(1992.0,0.038),(1995.0,0.038),(1996.0,0.039),(1998.0,0.039),(1999.0,0.038),(2000.0,0.038),(2001.0,0.039),(2002.0,0.040),(2003.0,0.040),(2004.0,0.039),(2008.0,0.039),(2009.0,0.037),(2010.0,0.039),(2011.0,0.038),(2012.0,0.037),(2013.0,0.037),(2015.0,0.038)]
MOM_12 = [(1951.0,0.034),(1952.0,0.037),(1953.0,0.035),(1954.0,0.030),(1955.0,0.024),(1955.5,0.029),(1956.0,0.030),(1956.5,0.033),(1957.0,0.030),(1957.5,0.021),(1958.0,0.027),(1958.5,0.020),(1959.0,0.011),(1960.0,0.017),(1960.4,0.007),(1961.0,0.009),(1962.0,0.008),(1963.0,0.007),(1964.0,0.015),(1965.0,0.025),(1966.0,0.033),(1966.8,0.005),(1967.3,0.023),(1968.0,0.025),(1969.0,0.030),(1970.0,0.023),(1971.0,0.028),(1971.5,0.029),(1972.0,0.030),(1972.5,0.034),(1973.0,0.031),(1974.0,0.025),(1974.8,0.009),(1975.2,0.029),(1975.6,0.033),(1976.0,0.034),(1977.0,0.034),(1978.0,0.033),(1978.5,0.030),(1979.0,0.034),(1980.0,0.036),(1981.0,0.037),(1982.0,0.035),(1983.0,0.037),(1985.0,0.038),(1987.0,0.038),(1988.0,0.036),(1990.0,0.036),(1991.0,0.037),(1992.0,0.038),(1995.0,0.038),(1996.0,0.0375),(1997.0,0.038),(1998.0,0.039),(1999.0,0.038),(2001.0,0.038),(2002.0,0.039),(2008.0,0.039),(2009.0,0.037),(2010.0,0.039),(2011.0,0.039),(2012.0,0.038),(2015.0,0.039)]
VOL_1_9 = [(1951.0,0.033),(1951.3,0.038),(1951.6,0.035),(1952.0,0.039),(1952.4,0.054),(1952.6,0.047),(1952.9,0.053),(1953.2,0.040),(1953.6,0.036),(1954.0,0.032),(1954.5,0.030),(1955.0,0.027),(1955.4,0.035),(1955.8,0.034),(1956.2,0.037),(1956.6,0.035),(1957.0,0.030),(1957.5,0.022),(1958.0,0.030),(1958.5,0.018),(1959.0,0.012),(1959.4,0.015),(1959.8,0.013),(1960.1,0.019),(1960.3,0.006),(1961.0,0.009),(1961.5,0.010),(1962.0,0.009),(1962.5,0.007),(1963.0,0.008),(1963.5,0.011),(1964.0,0.015),(1965.0,0.025),(1965.5,0.030),(1966.0,0.032),(1966.4,0.028),(1966.7,0.004),(1967.3,0.024),(1968.0,0.027),(1968.5,0.030),(1968.8,0.034),(1969.5,0.025),(1970.0,0.023),(1970.5,0.016),(1970.8,0.028),(1971.3,0.030),(1972.0,0.029),(1973.0,0.030),(1973.5,0.030),(1974.0,0.026),(1974.4,0.022),(1974.8,0.008),(1975.2,0.030),(1975.6,0.033),(1976.0,0.036),(1976.5,0.032),(1977.0,0.031),(1977.6,0.031),(1978.0,0.033),(1978.2,0.027),(1978.8,0.034),(1979.5,0.037),(1980.0,0.038),(1981.0,0.040),(1982.0,0.043),(1982.5,0.044),(1983.0,0.041),(1983.5,0.042),(1984.0,0.043),(1984.45,0.047),(1984.8,0.040),(1985.0,0.037),(1986.0,0.035),(1986.5,0.037),(1987.0,0.039),(1987.5,0.035),(1988.0,0.036),(1989.0,0.037),(1990.0,0.038),(1991.0,0.039),(1993.0,0.0385),(1994.0,0.039),(1996.0,0.038),(1997.0,0.039),(1998.0,0.040),(1999.0,0.038),(2001.0,0.0385),(2008.5,0.039),(2008.9,0.034),(2009.5,0.037),(2010.0,0.039),(2011.0,0.038),(2013.0,0.038),(2015.0,0.039)]
VOL_1_12 = [(1951.0,0.026),(1951.2,0.038),(1951.5,0.035),(1952.0,0.033),(1952.5,0.037),(1953.0,0.040),(1953.3,0.036),(1954.0,0.032),(1955.0,0.029),(1955.5,0.033),(1956.0,0.036),(1956.5,0.034),(1957.0,0.030),(1957.5,0.022),(1958.0,0.028),(1958.5,0.018),(1959.0,0.013),(1959.5,0.016),(1960.0,0.019),(1960.4,0.007),(1961.0,0.009),(1962.0,0.009),(1962.9,0.006),(1963.5,0.011),(1964.0,0.015),(1965.0,0.025),(1965.5,0.031),(1966.0,0.033),(1966.7,0.005),(1967.3,0.024),(1968.0,0.026),(1969.0,0.033),(1969.5,0.027),(1970.0,0.026),(1970.5,0.025),(1971.0,0.029),(1971.3,0.037),(1971.5,0.030),(1972.0,0.032),(1973.0,0.031),(1973.5,0.028),(1974.0,0.027),(1974.5,0.025),(1974.8,0.012),(1975.2,0.032),(1975.6,0.037),(1976.0,0.039),(1976.5,0.037),(1977.0,0.038),(1977.5,0.040),(1978.0,0.039),(1978.5,0.040),(1979.0,0.037),(1979.5,0.039),(1980.3,0.043),(1980.7,0.040),(1981.0,0.042),(1981.5,0.044),(1982.0,0.042),(1982.3,0.050),(1982.5,0.055),(1982.7,0.047),(1983.1,0.042),(1983.5,0.036),(1984.0,0.038),(1984.5,0.036),(1985.0,0.034),(1985.55,0.033),(1986.5,0.036),(1987.0,0.038),(1987.5,0.035),(1988.0,0.036),(1989.0,0.037),(1990.0,0.038),(1992.0,0.039),(1993.0,0.038),(1994.0,0.039),(1995.0,0.038),(1996.0,0.040),(1998.0,0.040),(1999.0,0.038),(2000.0,0.039),(2002.0,0.038),(2003.0,0.039),(2005.0,0.039),(2007.0,0.038),(2008.0,0.040),(2009.0,0.036),(2009.5,0.038),(2010.0,0.039),(2011.0,0.040),(2011.3,0.041),(2012.0,0.038),(2015.0,0.039)]

# ---- panel 8: VOL(2,9) / VOL(2,12) / VOL(3,9) / VOL(3,12) ----
VOL_2_9 = [(1951.0,0.036),(1951.3,0.040),(1951.6,0.033),(1952.0,0.041),(1952.3,0.035),(1952.6,0.033),(1953.0,0.036),(1953.5,0.028),(1954.0,0.026),(1954.5,0.024),(1955.0,0.030),(1955.5,0.031),(1956.0,0.032),(1956.5,0.032),(1957.0,0.030),(1957.5,0.025),(1958.0,0.031),(1958.5,0.022),(1959.0,0.013),(1959.5,0.016),(1960.0,0.019),(1960.4,0.008),(1961.0,0.015),(1961.5,0.011),(1962.0,0.011),(1962.7,0.008),(1963.0,0.009),(1964.0,0.015),(1965.0,0.030),(1965.3,0.040),(1965.6,0.030),(1966.0,0.022),(1966.4,0.030),(1966.7,0.004),(1967.3,0.025),(1968.0,0.028),(1968.5,0.036),(1968.9,0.039),(1969.3,0.030),(1970.0,0.020),(1970.3,0.016),(1970.8,0.026),(1971.5,0.028),(1972.0,0.030),(1973.0,0.030),(1973.5,0.025),(1974.0,0.023),(1974.8,0.007),(1975.2,0.028),(1975.6,0.032),(1976.0,0.034),(1977.0,0.034),(1978.0,0.035),(1979.0,0.037),(1980.0,0.039),(1981.0,0.040),(1982.0,0.042),(1982.6,0.047),(1983.0,0.042),(1983.5,0.043),(1984.0,0.044),(1984.6,0.046),(1984.8,0.040),(1985.0,0.038),(1986.0,0.038),(1986.5,0.039),(1987.0,0.039),(1987.5,0.035),(1988.0,0.036),(1989.0,0.037),(1990.0,0.038),(1993.0,0.038),(1994.0,0.039),(1996.0,0.040),(1998.0,0.040),(1999.0,0.038),(2003.0,0.038),(2004.0,0.039),(2007.0,0.039),(2008.0,0.040),(2008.7,0.036),(2009.3,0.039),(2010.0,0.039),(2011.0,0.040),(2012.0,0.039),(2015.0,0.039)]
VOL_2_12 = [(1951.0,0.022),(1951.3,0.034),(1952.0,0.032),(1952.5,0.030),(1953.0,0.036),(1953.2,0.047),(1953.6,0.030),(1954.0,0.027),(1954.5,0.028),(1955.0,0.030),(1955.5,0.031),(1956.0,0.033),(1956.5,0.033),(1957.0,0.030),(1957.3,0.025),(1957.8,0.034),(1958.0,0.025),(1958.5,0.020),(1959.0,0.013),(1959.5,0.016),(1960.0,0.021),(1960.4,0.008),(1961.0,0.011),(1962.0,0.010),(1962.7,0.007),(1963.0,0.009),(1964.0,0.015),(1965.0,0.025),(1965.5,0.030),(1966.0,0.040),(1966.1,0.047),(1966.4,0.030),(1966.8,0.004),(1967.3,0.025),(1968.0,0.027),(1968.5,0.033),(1969.0,0.036),(1969.5,0.027),(1970.0,0.022),(1970.4,0.015),(1970.8,0.025),(1971.5,0.027),(1972.0,0.029),(1973.0,0.030),(1973.5,0.025),(1974.0,0.022),(1974.8,0.008),(1975.2,0.028),(1975.6,0.032),(1976.0,0.033),(1977.0,0.034),(1978.0,0.036),(1979.0,0.038),(1980.0,0.040),(1981.0,0.041),(1982.0,0.042),(1982.6,0.047),(1983.0,0.038),(1984.0,0.038),(1985.0,0.037),(1986.0,0.038),(1987.0,0.038),(1988.0,0.037),(1989.0,0.037),(1990.0,0.038),(1995.0,0.038),(1996.0,0.039),(1998.0,0.039),(1999.0,0.038),(2000.0,0.0385),(2008.0,0.0385),(2009.0,0.035),(2009.5,0.038),(2010.0,0.039),(2011.0,0.0395),(2011.3,0.041),(2012.0,0.039),(2015.0,0.039)]
VOL_3_9 = [(1951.0,0.038),(1951.2,0.025),(1951.5,0.033),(1952.0,0.036),(1952.5,0.032),(1953.0,0.034),(1953.3,0.048),(1953.6,0.033),(1954.0,0.028),(1954.5,0.027),(1955.0,0.024),(1955.5,0.030),(1956.0,0.031),(1956.5,0.032),(1957.0,0.028),(1957.3,0.022),(1957.6,0.028),(1958.0,0.022),(1958.5,0.020),(1959.0,0.013),(1959.5,0.015),(1960.0,0.019),(1960.4,0.006),(1961.0,0.009),(1961.5,0.010),(1962.0,0.009),(1962.7,0.006),(1963.0,0.008),(1963.5,0.011),(1964.0,0.015),(1965.0,0.025),(1965.5,0.030),(1966.0,0.033),(1966.5,0.028),(1966.8,0.005),(1967.3,0.023),(1968.0,0.027),(1968.5,0.033),(1969.0,0.035),(1969.5,0.025),(1970.0,0.020),(1970.3,0.017),(1970.8,0.027),(1971.3,0.030),(1972.0,0.029),(1973.0,0.030),(1973.5,0.025),(1974.0,0.023),(1974.4,0.020),(1974.8,0.010),(1975.2,0.030),(1975.6,0.033),(1976.0,0.035),(1976.5,0.037),(1977.0,0.034),(1978.0,0.038),(1979.0,0.039),(1980.0,0.040),(1980.5,0.038),(1981.0,0.041),(1982.0,0.042),(1982.6,0.047),(1983.2,0.036),(1984.0,0.037),(1985.0,0.036),(1986.5,0.035),(1987.0,0.037),(1988.0,0.036),(1989.0,0.037),(1990.0,0.038),(1991.0,0.0375),(1993.0,0.038),(1995.0,0.039),(1998.0,0.039),(1999.0,0.038),(2003.0,0.038),(2004.0,0.0385),(2008.0,0.038),(2008.9,0.033),(2009.5,0.037),(2010.0,0.038),(2012.0,0.038),(2015.0,0.0385)]
VOL_3_12 = [(1951.0,0.034),(1951.3,0.028),(1951.6,0.039),(1952.0,0.036),(1953.0,0.034),(1953.5,0.032),(1954.0,0.030),(1954.5,0.031),(1955.0,0.033),(1955.5,0.036),(1956.0,0.038),(1956.4,0.040),(1956.8,0.036),(1957.0,0.030),(1957.5,0.023),(1958.0,0.030),(1958.5,0.020),(1959.0,0.013),(1959.5,0.016),(1960.0,0.020),(1960.4,0.006),(1961.0,0.009),(1962.0,0.009),(1962.7,0.007),(1963.0,0.009),(1964.0,0.015),(1965.0,0.025),(1965.5,0.030),(1966.0,0.031),(1966.8,0.004),(1967.3,0.024),(1968.0,0.026),(1968.5,0.035),(1969.0,0.033),(1969.5,0.027),(1970.0,0.025),(1970.5,0.020),(1971.3,0.033),(1971.5,0.030),(1972.0,0.030),(1973.0,0.030),(1973.5,0.026),(1974.0,0.024),(1974.8,0.008),(1975.2,0.029),(1975.6,0.033),(1976.0,0.035),(1977.0,0.034),(1978.0,0.039),(1979.0,0.038),(1980.0,0.042),(1980.5,0.039),(1981.0,0.041),(1982.0,0.043),(1982.6,0.048),(1983.0,0.038),(1984.0,0.037),(1985.0,0.036),(1986.0,0.033),(1986.5,0.035),(1987.0,0.037),(1990.0,0.038),(1991.0,0.037),(1992.0,0.0375),(1994.0,0.038),(1995.0,0.0385),(1997.0,0.039),(1998.0,0.0395),(1999.0,0.038),(2000.0,0.038),(2001.0,0.039),(2002.0,0.040),(2003.0,0.039),(2004.0,0.0395),(2005.0,0.0385),(2006.0,0.039),(2008.0,0.0385),(2009.0,0.036),(2010.0,0.039),(2011.0,0.039),(2011.7,0.041),(2012.0,0.039),(2015.0,0.0395)]

# line styles (dash lengths in units of line width)
SOLID = '-'
DASHED = (0, (7, 5))
DOTTED = (0, (0.8, 2.6))
DASHDOT = (0, (6, 2, 1, 2))

Y_015 = ([0, 0.05, 0.1, 0.15], ['0', '0.05', '0.1', '0.15'])
Y_1 = ([0, 0.5, 1], ['0', '0.5', '1'])
Y_006 = ([0, 0.02, 0.04, 0.06], ['0', '0.02', '0.04', '0.06'])

# (axes box in px: left, top, right, bottom), y ticks, series, legend centre px
PANELS = [
    ((92, 13, 603, 246), Y_015,
     [(DY, 'dy', 'k', SOLID), (EP, 'ep', 'b', DASHED), (DE, 'de', 'r', DASHDOT)],
     (339, 305.5)),
    ((763, 13, 1272, 246), Y_015,
     [(SVAR, 'svar', 'k', DOTTED), (BM, 'bm', 'b', SOLID), (NTIS, 'ntis', 'r', DASHED)],
     (1017.5, 303.5)),
    ((92, 338, 603, 570), Y_1,
     [(TBL, 'tbl', 'k', DASHDOT), (LTY, 'lty', 'b', DOTTED), (LTR, 'ltr', 'r', SOLID)],
     (344.5, 627.5)),
    ((763, 338, 1272, 570), Y_015,
     [(DFY, 'dfy', 'k', DASHED), (DFR, 'dfr', 'b', DASHDOT), (INFL, 'infl', 'r', DOTTED)],
     (1034.5, 625.5)),
    ((92, 660, 603, 894), Y_006,
     [(MA_1_9, 'MA(1,9)', 'k', SOLID), (MA_1_12, 'MA(1,12)', 'b', DASHED),
      (MA_2_9, 'MA(2,9)', 'r', DASHDOT)],
     (343, 953.5)),
    ((763, 660, 1272, 894), Y_006,
     [(MA_2_12, 'MA(2,12)', 'k', DOTTED), (MA_3_9, 'MA(3,9)', 'b', SOLID),
      (MA_3_12, 'MA(3,12)', 'r', DASHED)],
     (1018, 955)),
    ((92, 985, 603, 1218), Y_006,
     [(MOM_9, 'MOM(9)', 'k', DASHDOT), (MOM_12, 'MOM(12)', 'b', DOTTED),
      (VOL_1_9, 'VOL(1,9)', 'r', SOLID), (VOL_1_12, 'VOL(1,12)', GREEN, DASHED)],
     (335, 1297)),
    ((763, 985, 1272, 1218), Y_006,
     [(VOL_2_9, 'VOL(2,9)', 'k', DASHDOT), (VOL_2_12, 'VOL(2,12)', 'b', DOTTED),
      (VOL_3_9, 'VOL(3,9)', 'r', SOLID), (VOL_3_12, 'VOL(3,12)', GREEN, DASHED)],
     (1032.5, 1298.5)),
]

TICK_SIZE = 14.5
LEGEND_SIZE = 13.5


def px_axes(fig, box):
    left, top, right, bottom = box
    return fig.add_axes([left / FIG_W, 1 - bottom / FIG_H,
                         (right - left) / FIG_W, (bottom - top) / FIG_H])


fig = plt.figure(figsize=(FIG_W / 100, FIG_H / 100), dpi=100)

for box, (yticks, ylabels), series, legend_xy in PANELS:
    ax = px_axes(fig, box)
    handles = []
    for points, label, color, style in series:
        years = [p[0] for p in points]
        values = [p[1] for p in points]
        line, = ax.plot(years, values, color=color, linestyle=style,
                        linewidth=1.6, label=label)
        handles.append(line)

    ax.set_xlim(1951, 2015)
    ax.set_ylim(yticks[0], yticks[-1])
    ax.set_xticks(YEAR_TICKS)
    ax.set_xticklabels(YEAR_LABELS)
    ax.set_yticks(yticks)
    ax.set_yticklabels(ylabels)

    for side in ('top', 'right'):
        ax.spines[side].set_visible(False)
    for side in ('left', 'bottom'):
        ax.spines[side].set_color(AXIS_GREY)
        ax.spines[side].set_linewidth(0.8)
    ax.tick_params(direction='in', length=4, width=0.8, colors=AXIS_GREY,
                   labelcolor='black', labelsize=TICK_SIZE)
    ax.tick_params(axis='x', pad=10)
    ax.tick_params(axis='y', pad=5)

    spacing = 0.9 if len(series) == 4 else 0.65
    leg = fig.legend(handles=handles, loc='center',
                     bbox_to_anchor=(legend_xy[0] / FIG_W, 1 - legend_xy[1] / FIG_H),
                     ncol=len(series), fontsize=LEGEND_SIZE, frameon=True,
                     fancybox=False, framealpha=1, edgecolor=AXIS_GREY,
                     handlelength=3.4, handletextpad=0.3,
                     columnspacing=spacing, borderpad=0.4)
    leg.get_frame().set_linewidth(0.9)

fig.savefig('out.png', dpi=100)
